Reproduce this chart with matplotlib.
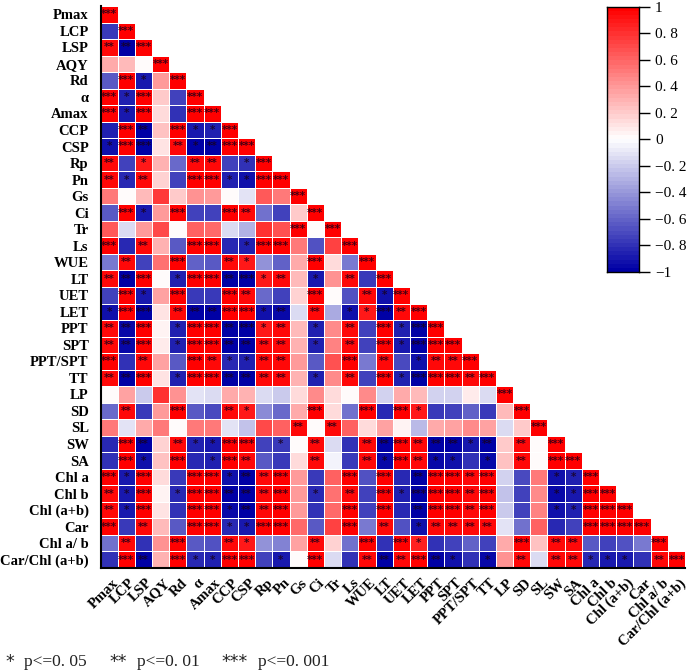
import numpy as np
import matplotlib
matplotlib.use('Agg')
import matplotlib.pyplot as plt
from matplotlib.colors import LinearSegmentedColormap
from matplotlib.transforms import ScaledTranslation

labels = ['Pmax', 'LCP', 'LSP', 'AQY', 'Rd', 'α', 'Amax', 'CCP', 'CSP', 'Rp', 'Pn', 'Gs', 'Ci', 'Tr', 'Ls',
          'WUE', 'LT', 'UET', 'LET', 'PPT', 'SPT', 'PPT/SPT', 'TT', 'LP', 'SD', 'SL', 'SW', 'SA',
          'Chl a', 'Chl b', 'Chl (a+b)', 'Car', 'Chl a/ b', 'Car/Chl (a+b)']

# lower triangle of the correlation matrix, one row per variable
corr = [
    [.98],
    [-.78, .98],
    [.95, -.97, .98],
    [.33, .25, .01, .98],
    [-.65, .97, -.88, .40, .98],
    [.97, -.85, .97, .2, -.75, .98],
    [.97, -.88, .97, .15, -.8, .97, .98],
    [-.85, .97, -.97, .22, .97, -.9, -.85, .98],
    [-.92, .97, -1, .12, .95, -.97, -.98, .97, .98],
    [.95, -.72, .88, .3, -.58, .95, .95, -.75, -.8, .98],
    [.95, -.82, .95, .17, -.72, .97, .97, -.85, -.92, .97, .98],
    [.5, 0, .27, .75, .2, .43, .4, 0, -.1, .65, .5, .98],
    [-.65, .97, -.88, .4, .97, -.75, -.75, .97, .95, -.55, -.72, .2, .98],
    [.65, -.15, .4, .7, 0, .6, .57, -.15, -.3, .8, .68, .97, 0, .98],
    [.97, -.82, .95, .3, -.65, .97, .97, -.82, -.85, .97, .97, .52, -.68, .72, .98],
    [-.52, .95, -.75, .55, .97, -.62, -.65, .95, .88, -.42, -.6, .32, .97, .15, -.52, .98],
    [.95, -.98, .97, 0, -.85, .97, .97, -.98, -1, .9, .95, .25, -.88, .42, .95, -.78, .98],
    [-.72, .97, -.88, .35, .97, -.78, -.78, .97, .95, -.58, -.72, .18, .97, 0, -.68, .95, -.92, .98],
    [-.92, .97, -1, .1, .95, -.97, -.98, .97, .97, -.92, -.95, -.15, .95, -.33, -.92, .88, -1, .95, .98],
    [.95, -.95, .97, .06, -.85, .97, .97, -.97, -1, .9, .95, .27, -.85, .45, .95, -.75, .97, -.85, -1, .98],
    [.95, -.95, .97, .07, -.85, .97, .97, -.97, -.98, .95, .95, .3, -.85, .48, .95, -.75, .97, -.88, -1, .97, .98],
    [.97, -.8, .95, .35, -.65, .97, .95, -.82, -.85, .95, .95, .4, -.65, .68, .97, -.52, .95, -.7, -.92, .95, .95, .98],
    [.95, -.97, .97, .1, -.85, .97, .97, -.97, -1, .95, .95, .3, -.85, .45, .95, -.72, .97, -.85, -1, .97, .97, .95, .98],
    [0, .35, -.2, .8, .42, -.12, -.15, .33, .3, -.13, -.2, .15, .45, .15, 0, .45, -.18, .32, .28, -.17, -.18, .07, -.15, .98],
    [-.58, .95, -.78, .4, .97, -.65, -.7, .95, .88, -.45, -.58, .33, .97, .15, -.55, .97, -.82, .97, .88, -.78, -.75, -.6, -.78, .27, .98],
    [.5, -.12, .33, .5, .03, .5, .5, -.12, -.22, .7, .62, .95, 0, .95, .62, .15, .35, .05, -.27, .33, .37, .45, .35, -.15, .2, .98],
    [-.82, .97, -.97, .17, .95, -.85, -.88, .97, .97, -.72, -.78, 0, .95, -.15, -.8, .95, -.98, .97, .95, -1, -.98, -.9, -1, .2, .95, 0, .98],
    [-.8, .97, -.92, .22, .97, -.82, -.85, .97, .95, -.65, -.78, .15, .95, -.06, -.78, .95, -.95, .97, .95, -.95, -.92, -.8, -.95, .22, .95, 0, .98, .98],
    [.97, -.9, .97, .13, -.78, .97, .97, -.92, -.97, .95, .97, .4, -.78, .6, .97, -.68, .97, -.82, -1, .97, .97, .95, .97, -.17, -.7, .5, -.92, -.85, .98],
    [.95, -.88, .97, .06, -.82, .97, .97, -1, -1, .95, .97, .38, -.82, .55, .95, -.75, .97, -.85, -1, .97, .97, .95, .97, -.22, -.75, .45, -.95, -.9, .97, .98],
    [.95, -.9, .97, .1, -.8, .97, .97, -.95, -1, .95, .97, .38, -.8, .58, .97, -.72, .97, -.82, -1, .97, .97, .95, .97, -.2, -.72, .47, -.92, -.87, .97, .97, .98],
    [.97, -.78, .95, .25, -.65, .97, .97, -.82, -.88, .97, .97, .57, -.65, .72, .97, -.52, .95, -.68, -.92, .95, .95, .95, .95, -.12, -.55, .6, -.82, -.72, .97, .97, .97, .98],
    [-.55, .95, -.8, .42, .97, -.65, -.68, .95, .88, -.42, -.5, .35, .95, .17, -.55, .97, -.8, .97, .85, -.8, -.75, -.6, -.75, .32, .97, .22, .95, .95, -.65, -.72, -.68, -.52, .98],
    [-.8, .97, -.97, .3, .97, -.82, -.87, .97, .97, -.75, -.88, 0, .97, -.15, -.8, .95, -.98, .95, .97, -.97, -.92, -.8, -.95, .42, .95, -.13, .95, .95, -.82, -.9, -.88, -.8, .95, .98],
]

# number of significance stars per cell, same layout as corr
stars = [
    '3',
    '03',
    '223',
    '0003',
    '03103',
    '313003',
    '3130033',
    '03203113',
    '133021233',
    '2010022013',
    '21200331133',
    '000000000003',
    '0310300320003',
    '00000000000303',
    '302003301330003',
    '0200300210003003',
    '22301332312010203',
    '031030032000300213',
    '1330222331202011323',
    '22301332312010203133',
    '223013322220102031333',
    '3020032112200030201223',
    '22301332222010203133323',
    '000000000000000000000003',
    '0200300210003003031000003',
    '00000000000202000000000003',
    '032021133010200223222120203',
    '0310301320002002132110102033',
    '31300331223000303023323000113',
    '213013322230102031333230001133',
    '2130033122300030302332300011333',
    '30200331133000302012222000003333',
    '020030021000200303100000302200003',
    '0320311330103002223210102022111023',
]

cbar_ticks = [-1, -0.8, -0.6, -0.4, -0.2, 0, 0.2, 0.4, 0.6, 0.8, 1]
cbar_labels = ['−1', '−0. 8', '−0. 6', '−0. 4', '−0. 2', '0', '0. 2', '0. 4', '0. 6', '0. 8', '1']

plt.rcParams['font.family'] = 'Liberation Serif'

n = len(labels)
matrix = np.full((n, n), np.nan)
for i, row in enumerate(corr):
    matrix[i, :len(row)] = row
masked = np.ma.masked_invalid(matrix)

cmap = LinearSegmentedColormap.from_list('rwb', ['#0000A5', '#FFFFFF', '#FF0000'], N=64)

W, H = 688, 672
fig = plt.figure(figsize=(W / 100, H / 100), dpi=100)
ax = fig.add_axes([100.5 / W, 1 - 568 / H, 584.5 / W, 562 / H])

ax.pcolormesh(np.arange(n + 1), np.arange(n + 1), masked, cmap=cmap, vmin=-1, vmax=1,
              edgecolors='#FFFFFF', linewidth=0.4)
ax.set_xlim(0, n)
ax.set_ylim(n, 0)

# stars on the significant cells
for i, row in enumerate(stars):
    for j, s in enumerate(row):
        if s != '0':
            ax.text(j + 0.5, i + 0.5, '*' * int(s), ha='center', va='center', fontsize=7.5,
                    family='DejaVu Sans', fontweight='bold', color='#180018', alpha=0.8)

ax.spines['top'].set_visible(False)
ax.spines['right'].set_visible(False)
ax.spines['left'].set_linewidth(1.5)
ax.spines['bottom'].set_linewidth(1.5)

ax.set_yticks(np.arange(n) + 0.5)
ax.set_yticklabels(labels, fontsize=10.5, fontweight='bold')
ax.tick_params(axis='y', length=0, pad=8.5)

ax.set_xticks(np.arange(n) + 0.5)
ax.set_xticklabels(labels, fontsize=10.5, fontweight='bold', rotation=45, ha='right', va='top',
                   rotation_mode='anchor')
ax.tick_params(axis='x', length=0, pad=6)
shift = ScaledTranslation(2.5 / 100, 0, fig.dpi_scale_trans)
for tick in ax.get_xticklabels():
    tick.set_transform(tick.get_transform() + shift)

# colorbar
cax = fig.add_axes([607 / W, 1 - 272 / H, 32 / W, 265.5 / H])
grad = np.linspace(-1, 1, 256).reshape(-1, 1)
cax.pcolormesh([0, 1], np.linspace(-1, 1, 257), grad, cmap=cmap, vmin=-1, vmax=1)
cax.set_xticks([])
cax.yaxis.tick_right()
cax.set_yticks(cbar_ticks)
cax.set_yticklabels(cbar_labels, fontsize=11)
cax.tick_params(axis='y', length=8, width=1, pad=3.5)
for sp in cax.spines.values():
    sp.set_linewidth(1)

# significance key
fig.text(5 / W, 1 - 662 / H, '*', fontsize=12.5, va='center', family='DejaVu Sans', color='#222222')
fig.text(24 / W, 1 - 662 / H, 'p<=0. 05', fontsize=12.5, va='center', color='#222222')
fig.text(109 / W, 1 - 662 / H, '**', fontsize=12.5, va='center', family='DejaVu Sans', color='#222222')
fig.text(137 / W, 1 - 662 / H, 'p<=0. 01', fontsize=12.5, va='center', color='#222222')
fig.text(221 / W, 1 - 662 / H, '***', fontsize=12.5, va='center', family='DejaVu Sans', color='#222222')
fig.text(258 / W, 1 - 662 / H, 'p<=0. 001', fontsize=12.5, va='center', color='#222222')

fig.savefig('out.png', dpi=100)
